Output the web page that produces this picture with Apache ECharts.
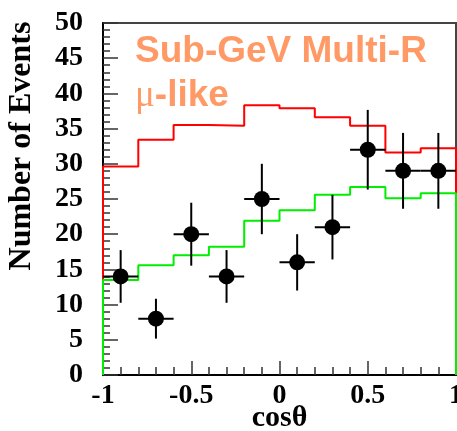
<!DOCTYPE html>
<html>
<head>
<meta charset="utf-8">
<title>Sub-GeV Multi-R mu-like</title>
<script src="https://cdn.jsdelivr.net/npm/echarts@6/dist/echarts.min.js"></script>
<style>
  html, body { margin: 0; padding: 0; background: #fff; }
  #main { width: 457px; height: 431px; }
</style>
</head>
<body>
<div id="main"></div>
<script>
// bin edges of cos(theta), 10 bins
var binEdges = [-1, -0.8, -0.6, -0.4, -0.2, 0, 0.2, 0.4, 0.6, 0.8, 1];
// MC without oscillation (red) and with oscillation (green)
var mcNoOsc = [29.6, 33.4, 35.5, 35.4, 38.3, 37.9, 36.6, 35.4, 31.6, 32.2];
var mcOsc   = [13.5, 15.6, 17.0, 18.2, 21.9, 23.4, 25.6, 26.7, 25.1, 25.8];
// data points
var dataX   = [-0.9, -0.7, -0.5, -0.3, -0.1, 0.1, 0.3, 0.5, 0.7, 0.9];
var dataN   = [14, 8, 20, 14, 25, 16, 21, 32, 29, 29];

var yTicks = { min: 0, max: 50, interval: 5 };
var xTicks = { min: -1, max: 1, interval: 0.5 };

// histogram outline, from 0 at the left edge back to 0 at the right edge
function histLine(vals) {
  var pts = [[binEdges[0], 0]];
  for (var i = 0; i < vals.length; i++) {
    pts.push([binEdges[i], vals[i]]);
    pts.push([binEdges[i + 1], vals[i]]);
  }
  pts.push([binEdges[binEdges.length - 1], 0]);
  return pts;
}

var points = dataX.map(function (x, i) {
  return [x, dataN[i], Math.sqrt(dataN[i])];
});

var serif = '"Liberation Serif", "DejaVu Serif", serif';
var sans = '"Liberation Sans", Arial, sans-serif';

var myChart = echarts.init(document.getElementById('main'));

var option = {
  animation: false,
  backgroundColor: '#fff',
  title: {
    text: 'Sub-GeV Multi-R\n{mu|μ}-like',
    left: 130,
    top: 25,
    textStyle: {
      color: '#ff9a66',
      fontFamily: sans,
      fontWeight: 'bold',
      fontSize: 37,
      lineHeight: 44,
      rich: {
        mu: { fontFamily: serif, fontSize: 37, color: '#ff9a66', fontWeight: 'normal', lineHeight: 44 }
      }
    }
  },
  grid: {
    left: 103,
    right: 1,
    top: 23,
    bottom: 56,
    show: true,
    borderColor: '#444',
    borderWidth: 2,
    containLabel: false,
    outerBoundsMode: 'none'
  },
  graphic: [{
    type: 'text',
    x: 22,
    y: 146,
    rotation: Math.PI / 2,
    style: {
      text: 'Number of Events',
      font: 'bold 32px ' + serif,
      fill: '#000',
      align: 'center',
      verticalAlign: 'middle'
    }
  }],
  xAxis: {
    type: 'value',
    min: xTicks.min,
    max: xTicks.max,
    interval: xTicks.interval,
    name: 'cosθ',
    nameLocation: 'middle',
    nameGap: 28,
    nameMoveOverlap: false,
    nameTextStyle: { fontFamily: serif, fontWeight: 'bold', fontSize: 30, color: '#000' },
    axisLine: { onZero: false, lineStyle: { color: '#000', width: 2 } },
    axisTick: { inside: true, length: 14, lineStyle: { color: '#333', width: 1.5 } },
    minorTick: { show: true, splitNumber: 5, length: 8, lineStyle: { color: '#333', width: 1.5 } },
    splitLine: { show: false },
    axisLabel: {
      margin: 7,
      fontFamily: serif, fontWeight: 'bold', fontSize: 28, color: '#000',
      showMinLabel: true, showMaxLabel: true
    }
  },
  yAxis: {
    type: 'value',
    min: yTicks.min,
    max: yTicks.max,
    interval: yTicks.interval,
    axisLine: { show: true, onZero: false, lineStyle: { color: '#000', width: 2 } },
    axisTick: { show: true, inside: true, length: 15, lineStyle: { color: '#333', width: 1.5 } },
    minorTick: { show: true, splitNumber: 5, length: 7, lineStyle: { color: '#333', width: 1.5 } },
    splitLine: { show: false },
    axisLabel: {
      margin: 20,
      fontFamily: serif, fontWeight: 'bold', fontSize: 28, color: '#000'
    }
  },
  series: [{
    name: 'no osc',
    type: 'line',
    symbol: 'none',
    z: 3,
    lineStyle: { color: '#ff0000', width: 2 },
    data: histLine(mcNoOsc)
  }, {
    name: 'osc',
    type: 'line',
    symbol: 'none',
    z: 4,
    lineStyle: { color: '#00ee00', width: 2 },
    data: histLine(mcOsc)
  }, {
    name: 'errors',
    type: 'custom',
    z: 5,
    data: points,
    renderItem: function (params, api) {
      var x = api.value(0), y = api.value(1), e = api.value(2);
      var l = api.coord([x - 0.1, y]);
      var r = api.coord([x + 0.1, y]);
      var t = api.coord([x, y + e]);
      var b = api.coord([x, y - e]);
      var st = { stroke: '#000', lineWidth: 2 };
      return {
        type: 'group',
        children: [
          { type: 'line', shape: { x1: l[0], y1: l[1], x2: r[0], y2: r[1] }, style: st },
          { type: 'line', shape: { x1: t[0], y1: t[1], x2: b[0], y2: b[1] }, style: st }
        ]
      };
    }
  }, {
    name: 'data',
    type: 'scatter',
    z: 6,
    symbol: 'circle',
    symbolSize: 16,
    itemStyle: { color: '#000', opacity: 1 },
    data: points.map(function (p) { return [p[0], p[1]]; })
  }]
};

myChart.setOption(option);
</script>
</body>
</html>
